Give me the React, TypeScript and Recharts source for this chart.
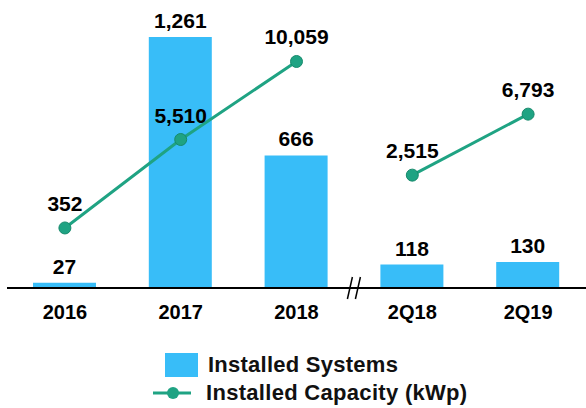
import {
  ComposedChart,
  Bar,
  Line,
  XAxis,
  YAxis,
  LabelList,
  Legend,
  Customized,
} from "recharts";

const categories = ["2016", "2017", "2018", "2Q18", "2Q19"];
const installedSystems = [27, 1261, 666, 118, 130];
// annual capacity and half-year capacity are drawn as two separate segments
const capacityAnnual = [352, 5510, 10059, null, null];
const capacityHalf = [null, null, null, 2515, 6793];

const data = categories.map((cat, i) => ({
  cat,
  systems: installedSystems[i],
  capA: capacityAnnual[i],
  capB: capacityHalf[i],
}));

const BAR_COLOR = "#38bdf8";
const LINE_COLOR = "#1fa383";
const FONT = "'Liberation Sans', Arial, sans-serif";

const W = 586;
const H = 408;
const M = { top: 37, right: 0, left: 7, bottom: 0 };
const AXIS_Y = 288;

const fmt = (v: any) => (v == null ? "" : Number(v).toLocaleString("en-US"));
const labelStyle = { fill: "#000", fontSize: 21, fontWeight: 700, fontFamily: FONT };

function BreakMark() {
  // "//" axis break between the annual and half-year groups
  const band = (W - M.left - M.right) / categories.length;
  const x = M.left + band * 3;
  return (
    <g stroke="#000" strokeWidth={1.5}>
      <line x1={x - 7} y1={AXIS_Y + 11} x2={x - 2} y2={AXIS_Y - 11} />
      <line x1={x + 1} y1={AXIS_Y + 11} x2={x + 6} y2={AXIS_Y - 11} />
    </g>
  );
}

function LegendBox() {
  const text = { fontFamily: FONT, fontWeight: 700, fontSize: 22, color: "#111", letterSpacing: 0.25 };
  return (
    <div>
      <div style={{ display: "flex", alignItems: "center", height: 28 }}>
        <div style={{ width: 33, height: 24, background: BAR_COLOR, marginLeft: 15, marginRight: 10 }} />
        <span style={text}>Installed Systems</span>
      </div>
      <div style={{ display: "flex", alignItems: "center", height: 28 }}>
        <svg width={54} height={16} style={{ marginLeft: 2 }}>
          <line x1={1} y1={8} x2={39} y2={8} stroke={LINE_COLOR} strokeWidth={3} />
          <circle cx={21} cy={8} r={6} fill={LINE_COLOR} />
        </svg>
        <span style={{ ...text, letterSpacing: 0.3 }}>Installed Capacity (kWp)</span>
      </div>
    </div>
  );
}

export default function App() {
  return (
    <div style={{ position: "absolute", left: 0, top: 0, width: W, height: H, background: "#fff" }}>
      <ComposedChart width={W} height={H} data={data} margin={M}>
        <XAxis
          dataKey="cat"
          height={H - AXIS_Y}
          tickLine={false}
          tickMargin={11}
          axisLine={{ stroke: "#000", strokeWidth: 2 }}
          tick={{ fill: "#000", fontSize: 20, fontWeight: 700, fontFamily: FONT }}
        />
        <YAxis yAxisId="sys" hide domain={[0, 1261]} />
        <YAxis yAxisId="capA" hide domain={[-3149, 11487]} />
        <YAxis yAxisId="capB" hide domain={[-5400, 12202]} />
        <Legend
          layout="horizontal"
          verticalAlign="middle"
          align="center"
          wrapperStyle={{ top: 351, left: 150, width: 360 }}
          content={() => <LegendBox />}
        />
        <Bar
          yAxisId="sys"
          dataKey="systems"
          fill={BAR_COLOR}
          barSize={63}
          isAnimationActive={false}
        >
          <LabelList dataKey="systems" position="top" offset={9} formatter={fmt} style={labelStyle} />
        </Bar>
        <Line
          yAxisId="capA"
          dataKey="capA"
          stroke={LINE_COLOR}
          strokeWidth={3}
          dot={{ r: 6, fill: LINE_COLOR, stroke: "#178a6c", strokeWidth: 1 }}
          isAnimationActive={false}
        >
          <LabelList dataKey="capA" position="top" offset={17} formatter={fmt} style={labelStyle} />
        </Line>
        <Line
          yAxisId="capB"
          dataKey="capB"
          legendType="none"
          stroke={LINE_COLOR}
          strokeWidth={3}
          dot={{ r: 6, fill: LINE_COLOR, stroke: "#178a6c", strokeWidth: 1 }}
          isAnimationActive={false}
        >
          <LabelList dataKey="capB" position="top" offset={17} formatter={fmt} style={labelStyle} />
        </Line>
        <Customized component={BreakMark} />
      </ComposedChart>
    </div>
  );
}
